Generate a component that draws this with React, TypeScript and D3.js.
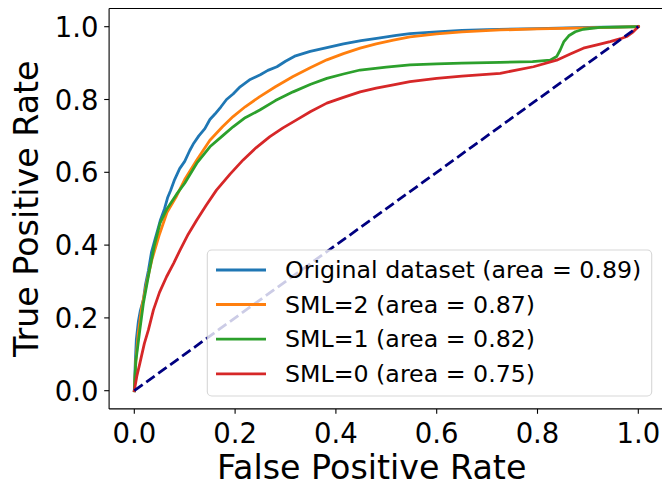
import React from "react";
import * as d3 from "d3";

const seriesNames = [
  "Original dataset (area = 0.89)",
  "SML=2 (area = 0.87)",
  "SML=1 (area = 0.82)",
  "SML=0 (area = 0.75)",
];
const seriesColors = ["#1f77b4", "#ff7f0e", "#2ca02c", "#d62728"];

const originalFpr = [0, 0.002, 0.004, 0.008, 0.012, 0.018, 0.022, 0.028, 0.034, 0.04, 0.046, 0.052, 0.06, 0.066, 0.072, 0.08, 0.09, 0.1, 0.11, 0.118, 0.128, 0.14, 0.15, 0.16, 0.172, 0.183, 0.196, 0.21, 0.23, 0.25, 0.265, 0.283, 0.3, 0.32, 0.349, 0.38, 0.415, 0.45, 0.481, 0.52, 0.547, 0.6, 0.65, 0.7, 0.8, 0.9, 1.0];
const originalTpr = [0, 0.08, 0.14, 0.19, 0.22, 0.25, 0.29, 0.33, 0.38, 0.41, 0.44, 0.47, 0.5, 0.53, 0.55, 0.58, 0.61, 0.63, 0.66, 0.68, 0.7, 0.72, 0.745, 0.76, 0.78, 0.8, 0.815, 0.835, 0.855, 0.868, 0.88, 0.89, 0.905, 0.92, 0.932, 0.942, 0.953, 0.962, 0.968, 0.976, 0.981, 0.986, 0.99, 0.992, 0.995, 0.998, 1.0];

const sml2Fpr = [0, 0.003, 0.008, 0.015, 0.025, 0.035, 0.05, 0.065, 0.084, 0.1, 0.124, 0.15, 0.175, 0.196, 0.22, 0.249, 0.28, 0.315, 0.35, 0.382, 0.415, 0.448, 0.48, 0.514, 0.547, 0.6, 0.65, 0.726, 0.8, 0.9, 1.0];
const sml2Tpr = [0, 0.08, 0.16, 0.23, 0.3, 0.36, 0.43, 0.49, 0.535, 0.58, 0.634, 0.688, 0.725, 0.753, 0.78, 0.808, 0.835, 0.863, 0.888, 0.909, 0.926, 0.941, 0.953, 0.963, 0.972, 0.98, 0.986, 0.991, 0.994, 0.997, 1.0];

const sml1Fpr = [0, 0.003, 0.011, 0.018, 0.03, 0.04, 0.051, 0.065, 0.084, 0.1, 0.124, 0.15, 0.175, 0.196, 0.22, 0.249, 0.28, 0.315, 0.35, 0.382, 0.415, 0.448, 0.5, 0.547, 0.6, 0.65, 0.726, 0.79, 0.825, 0.838, 0.845, 0.852, 0.862, 0.875, 0.891, 0.924, 0.96, 1.0];
const sml1Tpr = [0, 0.08, 0.167, 0.24, 0.33, 0.4, 0.46, 0.5, 0.54, 0.57, 0.625, 0.67, 0.7, 0.725, 0.75, 0.771, 0.797, 0.821, 0.842, 0.858, 0.87, 0.881, 0.889, 0.895, 0.898, 0.9, 0.902, 0.904, 0.908, 0.918, 0.936, 0.958, 0.975, 0.986, 0.993, 0.998, 0.999, 1.0];

const sml0Fpr = [0, 0.005, 0.011, 0.02, 0.028, 0.038, 0.05, 0.064, 0.078, 0.091, 0.107, 0.124, 0.143, 0.163, 0.19, 0.216, 0.242, 0.269, 0.295, 0.322, 0.35, 0.382, 0.415, 0.448, 0.48, 0.514, 0.547, 0.6, 0.65, 0.726, 0.792, 0.838, 0.865, 0.891, 0.92, 0.944, 0.965, 0.977, 0.99, 1.0];
const sml0Tpr = [0, 0.04, 0.075, 0.13, 0.167, 0.222, 0.27, 0.313, 0.35, 0.387, 0.43, 0.469, 0.51, 0.551, 0.595, 0.634, 0.668, 0.698, 0.722, 0.744, 0.767, 0.79, 0.806, 0.821, 0.831, 0.84, 0.849, 0.858, 0.864, 0.872, 0.89, 0.908, 0.925, 0.941, 0.951, 0.959, 0.967, 0.973, 0.986, 1.0];

const chanceFpr = [0, 1];
const chanceTpr = [0, 1];

const tickValues = [0, 0.2, 0.4, 0.6, 0.8, 1.0];

const allFpr = [originalFpr, sml2Fpr, sml1Fpr, sml0Fpr];
const allTpr = [originalTpr, sml2Tpr, sml1Tpr, sml0Tpr];

const W = 662;
const H = 483;
const FONT = "DejaVu Sans, sans-serif";

export default function App() {
  const x = d3.scaleLinear().domain([-0.05, 1.05]).range([109.1, 663.5]);
  const y = d3.scaleLinear().domain([-0.05, 1.05]).range([408.9, 8.5]);
  const line = d3
    .line<[number, number]>()
    .x((d) => x(d[0]))
    .y((d) => y(d[1]));

  const toPts = (xs: number[], ys: number[]) =>
    xs.map((v, i) => [v, ys[i]] as [number, number]);

  const tickFs = 27.5;
  const legFs = 23.7;
  const legRows = [270, 304.5, 339.2, 373.9];

  return (
    <svg
      width={W}
      height={H}
      style={{ position: "absolute", left: 0, top: 0, display: "block", background: "#fff" }}
    >
      <defs>
        <clipPath id="plotclip">
          <rect x={109.1} y={8.5} width={554.4} height={400.4} />
        </clipPath>
      </defs>
      <g clipPath="url(#plotclip)">
        {allFpr.map((xs, i) => (
          <path
            key={i}
            d={line(toPts(xs, allTpr[i])) || ""}
            fill="none"
            stroke={seriesColors[i]}
            strokeWidth={2.78}
            strokeLinejoin="round"
            strokeLinecap="square"
          />
        ))}
        <path
          d={line(toPts(chanceFpr, chanceTpr)) || ""}
          fill="none"
          stroke="navy"
          strokeWidth={2.78}
          strokeDasharray="10.3,4.45"
        />
      </g>
      {/* spines (right spine falls outside the picture) */}
      <g stroke="#000" strokeWidth={1.1} fill="none">
        <line x1={109.1} y1={8.5} x2={109.1} y2={408.9} />
        <line x1={109.1} y1={408.9} x2={662} y2={408.9} />
        <line x1={109.1} y1={8.5} x2={662} y2={8.5} />
      </g>
      {/* x ticks */}
      {tickValues.map((t) => (
        <g key={"x" + t}>
          <line x1={x(t)} x2={x(t)} y1={408.9} y2={413.8} stroke="#000" strokeWidth={1.1} />
          <text
            x={x(t)}
            y={443}
            textAnchor="middle"
            fontFamily={FONT}
            fontSize={tickFs}
            fill="#000"
          >
            {t.toFixed(1)}
          </text>
        </g>
      ))}
      {/* y ticks */}
      {tickValues.map((t) => (
        <g key={"y" + t}>
          <line x1={104.2} x2={109.1} y1={y(t)} y2={y(t)} stroke="#000" strokeWidth={1.1} />
          <text
            x={98.5}
            y={y(t) + tickFs * 0.3645}
            textAnchor="end"
            fontFamily={FONT}
            fontSize={tickFs}
            fill="#000"
          >
            {t.toFixed(1)}
          </text>
        </g>
      ))}
      <text x={371.7} y={478.5} textAnchor="middle" fontFamily={FONT} fontSize={33.3} fill="#000">
        False Positive Rate
      </text>
      <text
        transform="translate(38.3,208.7) rotate(-90)"
        textAnchor="middle"
        fontFamily={FONT}
        fontSize={33.3}
        fill="#000"
      >
        True Positive Rate
      </text>
      {/* legend */}
      <rect
        x={207.3}
        y={250}
        width={444.4}
        height={146}
        rx={4.5}
        ry={4.5}
        fill="#fff"
        fillOpacity={0.8}
        stroke="#cccccc"
        strokeOpacity={0.8}
        strokeWidth={1.1}
      />
      {seriesNames.map((name, i) => (
        <g key={name}>
          <line
            x1={216}
            x2={266}
            y1={legRows[i]}
            y2={legRows[i]}
            stroke={seriesColors[i]}
            strokeWidth={2.78}
          />
          <text x={285} y={legRows[i] + 8} fontFamily={FONT} fontSize={legFs} fill="#000">
            {name}
          </text>
        </g>
      ))}
    </svg>
  );
}
